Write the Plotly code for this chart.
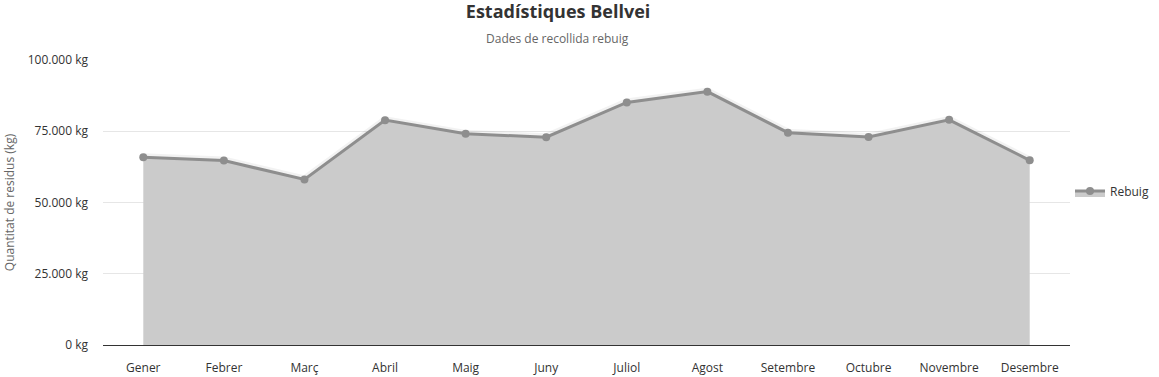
import plotly.graph_objects as go

months = ["Gener", "Febrer", "Març", "Abril", "Maig", "Juny", "Juliol",
          "Agost", "Setembre", "Octubre", "Novembre", "Desembre"]
rebuig = [65900, 64700, 58100, 78900, 74100, 72900, 85100, 88900,
          74500, 73000, 79000, 64800]
y_ticks = [0, 25000, 50000, 75000, 100000]
y_ticktext = ["0 kg", "25.000 kg", "50.000 kg", "75.000 kg", "100.000 kg"]

FONT = "Open Sans, Noto Sans, sans-serif"

fig = go.Figure()
# soft shadow under line
fig.add_trace(go.Scatter(
    x=months, y=rebuig, mode="lines",
    line=dict(color="rgba(0,0,0,0.05)", width=8),
    hoverinfo="skip", showlegend=False,
))
fig.add_trace(go.Scatter(
    x=months, y=rebuig, name="Rebuig",
    mode="lines+markers",
    fill="tozeroy", fillcolor="#cbcbcb",
    line=dict(color="#8e8e8e", width=3),
    marker=dict(color="#8e8e8e", size=8),
))

fig.update_layout(
    width=1159, height=377,
    margin=dict(l=103, r=89, t=60, b=32, autoexpand=False),
    paper_bgcolor="white", plot_bgcolor="white",
    font=dict(family=FONT, size=12, color="#333333"),
    title=dict(text="<b>Estadístiques Bellvei</b>", x=0.4815, xref="container",
               xanchor="center", y=0.985, yanchor="top",
               font=dict(size=18, color="#333333", family=FONT)),
    annotations=[dict(text="Dades de recollida rebuig", xref="paper", yref="paper",
                      x=0.4705, y=1.0, yshift=22, showarrow=False,
                      xanchor="center", yanchor="middle",
                      font=dict(size=12, color="#666666", family=FONT))],
    xaxis=dict(showgrid=False, showline=True, linecolor="#333333", linewidth=1,
               ticks="", ticklabelstandoff=12,
               tickfont=dict(size=12, color="#333333"),
               range=[-0.5, 11.5]),
    yaxis=dict(range=[0, 100000], tickvals=y_ticks, ticktext=y_ticktext,
               showgrid=True, gridcolor="#e6e6e6", zeroline=False,
               ticks="", ticklabelstandoff=14,
               tickfont=dict(size=12, color="#333333"),
               title=dict(text="Quantitat de residus (kg)", standoff=10,
                          font=dict(size=12, color="#666666"))),
    legend=dict(x=1.0, y=0.54, xanchor="left", yanchor="middle",
                font=dict(size=12, color="#333333"), itemwidth=30),
    showlegend=True,
)

fig.write_html("out.html")
